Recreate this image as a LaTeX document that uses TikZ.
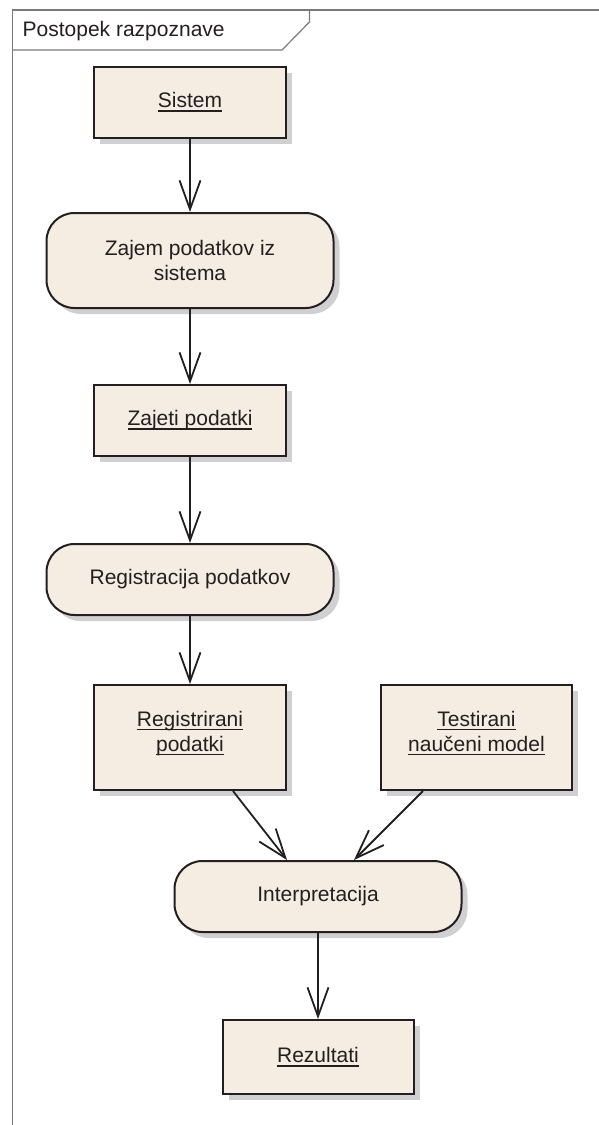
\documentclass[tikz,border=0pt]{standalone}
\usepackage{fontspec}
\setmainfont{Liberation Sans}
\usetikzlibrary{arrows.meta,shadows}
\definecolor{objfill}{HTML}{F5EDE2}
\definecolor{ink}{HTML}{231F20}
\definecolor{shade}{HTML}{D0D0D3}
\definecolor{framegray}{HTML}{7A7A7A}
% underlined word with a rule of fixed thickness
\newcommand\ulword[1]{\setbox0\hbox{#1}\leavevmode\rlap{\rule[-3.8pt]{\wd0}{1.4pt}}\box0}
\tikzset{
  base/.style={draw=ink, line width=2pt, fill=objfill, text=ink,
    font=\fontsize{21}{25}\selectfont, align=center, inner sep=0pt,
    drop shadow={shadow xshift=6pt, shadow yshift=-6pt, fill=shade, opacity=1}},
  objbox/.style={base, rectangle, minimum width=192pt, minimum height=71pt},
  actbox/.style={base, rectangle, rounded corners=28pt, minimum width=287pt, minimum height=71pt},
  flow/.style={draw=ink, line width=1.8pt, -{Straight Barb[length=29pt,width=21pt]}},
}
\begin{document}
\begin{tikzpicture}[x=1pt,y=-1pt]
\useasboundingbox (0,0) rectangle (599,1125);
% diagram frame and its name tab
\draw[framegray, line width=1.6pt] (12.5,1125) -- (12.5,10) -- (599,10);
\draw[framegray, line width=1.2pt] (12.5,50) -- (282,50) -- (309.5,22) -- (309.5,10);
\node[anchor=base west, inner sep=0pt, text=ink, font=\fontsize{21}{25}\selectfont] (title) at (22.5,36) {Postopek razpoznave};
% objects and actions
\node[objbox] (sys) at (190,102) {\ulword{Sistem}};
\node[actbox, minimum height=95pt] (zajem) at (190,260.5) {Zajem podatkov iz\\sistema};
\node[objbox] (zajeti) at (190,420.5) {\ulword{Zajeti podatki}};
\node[actbox] (regist) at (190,579.5) {Registracija podatkov};
\node[objbox, minimum height=105pt] (regd) at (190,737.5) {\ulword{Registrirani}\\\ulword{podatki}\\[-12pt]};
\node[objbox, minimum width=191pt, minimum height=105pt] (test) at (476.5,737.5) {\ulword{Testirani}\\\ulword{naučeni model}\\[-12pt]};
\node[actbox] (interp) at (318,896.5) {Interpretacija};
\node[objbox, minimum width=191pt, minimum height=74pt] (rez) at (318,1057) {\ulword{Rezultati}};
% control flow
\draw[flow] (sys) -- (zajem);
\draw[flow] (zajem) -- (zajeti);
\draw[flow] (zajeti) -- (regist);
\draw[flow] (regist) -- (regd);
\draw[flow] ([xshift=43pt]regd.south) -- ([xshift=-31pt]interp.north);
\draw[flow] ([xshift=-53.5pt]test.south) -- ([xshift=36pt]interp.north);
\draw[flow] (interp) -- (rez);
\end{tikzpicture}
\end{document}
